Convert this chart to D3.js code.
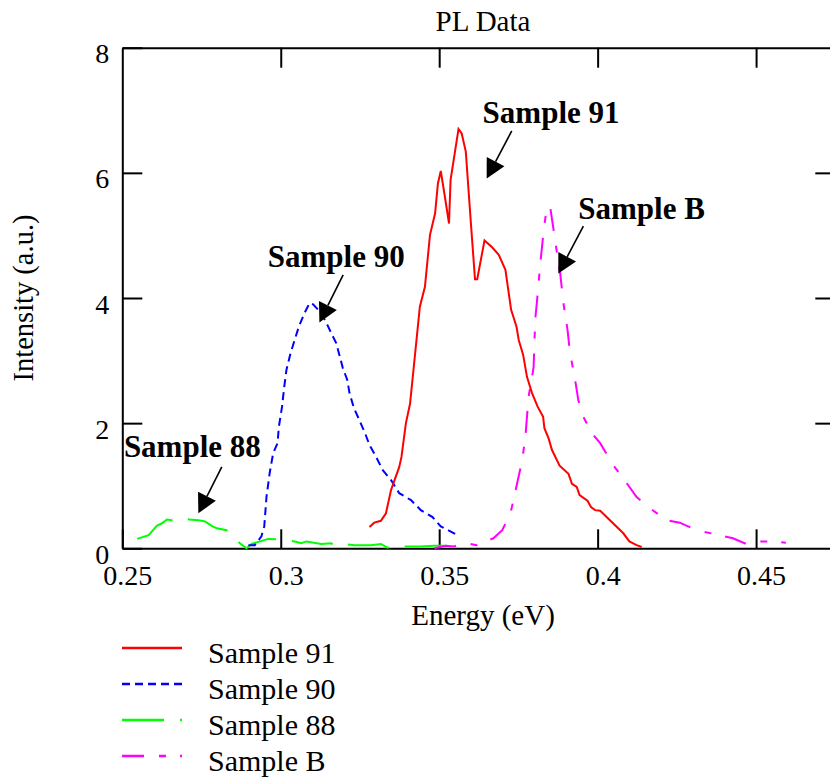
<!DOCTYPE html>
<html>
<head>
<meta charset="utf-8">
<script src="https://cdn.jsdelivr.net/npm/d3@7"></script>
<style>
  body { margin: 0; background: #fff; }
  svg text { font-family: "Liberation Serif", "Times New Roman", Times, serif !important; fill: #000; }
</style>
</head>
<body>
<script>
// PL spectra: energy (eV) and intensity (a.u.)
const s91E = [0.3280,0.3295,0.3316,0.3332,0.3348,0.3374,0.3381,0.3395,0.3408,0.3423,0.3439,0.3455,0.3471,0.3487,0.3496,0.3505,0.3517,0.3531,0.3536,0.3549,0.3561,0.3571,0.3584,0.3597,0.3613,0.3620,0.3643,0.3667,0.3688,0.3709,0.3727,0.3744,0.3751,0.3765,0.3777,0.3793,0.3811,0.3828,0.3832,0.3845,0.3856,0.3880,0.3908,0.3919,0.3934,0.3943,0.3968,0.3979,0.3992,0.4008,0.4081,0.4100,0.4123,0.4139];
const s91I = [0.34,0.41,0.44,0.56,0.93,1.30,1.46,2.00,2.31,3.06,3.86,4.18,5.01,5.35,5.83,6.03,5.65,5.19,5.89,6.31,6.70,6.63,6.34,5.41,4.30,4.30,4.92,4.81,4.69,4.45,3.81,3.54,3.33,3.09,2.74,2.48,2.26,2.10,1.92,1.76,1.57,1.32,1.19,1.03,0.98,0.85,0.76,0.66,0.61,0.60,0.24,0.11,0.05,0.02];

const s90E = [0.2898,0.2918,0.2939,0.2948,0.2955,0.2965,0.2976,0.2990,0.2994,0.3004,0.3011,0.3018,0.3031,0.3044,0.3057,0.3075,0.3091,0.3102,0.3128,0.3147,0.3165,0.3175,0.3185,0.3196,0.3210,0.3217,0.3231,0.3248,0.3266,0.3280,0.3301,0.3322,0.3348,0.3374,0.3411,0.3442,0.3479,0.3505,0.3547,0.3557];
const s90I = [0.05,0.05,0.19,0.35,0.82,1.20,1.52,1.68,1.94,2.26,2.58,2.85,3.12,3.33,3.54,3.76,3.92,3.90,3.76,3.57,3.38,3.28,3.09,2.88,2.69,2.48,2.24,2.05,1.84,1.65,1.46,1.25,1.09,0.88,0.77,0.61,0.50,0.35,0.24,0.21];

const s88E = [0.2547,0.2583,0.2609,0.2625,0.2641,0.2656,0.2698,0.2711,0.2740,0.2761,0.2782,0.2798,0.2829,0.2840,0.2855,0.2871,0.2892,0.2908,0.2960,0.3002,0.3044,0.3065,0.3081,0.3128,0.3159,0.3170,0.3186,0.3233,0.3285,0.3316,0.3337,0.3379,0.3442,0.3484,0.3547];
const s88I = [0.15,0.21,0.36,0.40,0.46,0.45,0.49,0.46,0.45,0.43,0.36,0.32,0.29,0.21,0.16,0.08,0.00,0.07,0.15,0.14,0.11,0.08,0.11,0.07,0.08,0.04,0.07,0.05,0.05,0.07,0.01,0.03,0.03,0.04,0.04];

const sBE = [0.3485,0.3521,0.3547,0.3568,0.3589,0.3618,0.3647,0.3671,0.3699,0.3725,0.3746,0.3762,0.3772,0.3782,0.3793,0.3798,0.3803,0.3811,0.3819,0.3830,0.3840,0.3851,0.3861,0.3872,0.3882,0.3892,0.3905,0.3913,0.3929,0.3939,0.3955,0.3982,0.4008,0.4049,0.4092,0.4123,0.4165,0.4217,0.4259,0.4312,0.4385,0.4427,0.4469,0.4490,0.4542,0.4594];
const sBI = [0.00,0.04,0.03,0.07,0.08,0.05,0.11,0.16,0.29,0.56,1.04,1.41,1.78,2.42,2.74,2.90,3.65,4.08,4.55,5.09,5.46,5.43,5.09,4.71,4.39,3.92,3.49,3.12,2.69,2.37,2.10,1.84,1.68,1.33,1.04,0.82,0.64,0.45,0.41,0.29,0.21,0.16,0.07,0.11,0.11,0.09];

const seriesNames = ["Sample 91", "Sample 90", "Sample 88", "Sample B"];
const xTicks = [0.25, 0.3, 0.35, 0.4, 0.45];
const yTicks = [0, 2, 4, 6, 8];

// annotation labels: text anchor and arrow (from, tip), in data units
const noteNames = ["Sample 91", "Sample B", "Sample 90", "Sample 88"];
const noteText  = [[0.3637, 6.79], [0.3939, 5.27], [0.2959, 4.50], [0.2505, 1.46]];
const noteFrom  = [[0.3729, 6.67], [0.3955, 5.15], [0.3197, 4.37], [0.2814, 1.30]];
const noteTip   = [[0.3650, 5.91], [0.3876, 4.39], [0.3122, 3.61], [0.2740, 0.56]];

// layout
const W = 830, H = 778;
const plot = { left: 122.3, right: 835.3, top: 47.7, bottom: 548.3 };
const SERIF = "'Liberation Serif', 'Times New Roman', Times, serif";

const x = d3.scaleLinear().domain([0.25, 0.475]).range([plot.left, plot.right]);
const y = d3.scaleLinear().domain([0, 8]).range([plot.bottom, plot.top]);

const styles = [
  { color: "#ff0000", dash: null },
  { color: "#0000ff", dash: "8,5" },
  { color: "#00ff00", dash: "42,16" },
  { color: "#ff00ff", dash: "22,15,7,14" }
];

const svg = d3.select("body").append("svg")
  .attr("width", W)
  .attr("height", H)
  .attr("font-family", SERIF);

// axes, ticks inward on all four sides
const gx = svg.append("g")
  .attr("transform", `translate(0,${plot.bottom})`)
  .call(d3.axisBottom(x).tickValues(xTicks).tickSize(-19).tickSizeOuter(0).tickFormat(d3.format("")));
gx.selectAll("text").attr("y", 37).attr("dy", null).attr("x", 5).attr("font-size", 28);

const gy = svg.append("g")
  .attr("transform", `translate(${plot.left},0)`)
  .call(d3.axisLeft(y).tickValues(yTicks).tickSize(-20).tickSizeOuter(0));
gy.selectAll("text").attr("x", -13).attr("dy", null).attr("y", 15).attr("font-size", 28);

svg.append("g")
  .attr("transform", `translate(0,${plot.top})`)
  .call(d3.axisTop(x).tickValues(xTicks.slice(1)).tickSize(-20).tickSizeOuter(0).tickFormat(""));

svg.append("g")
  .attr("transform", `translate(${plot.right},0)`)
  .call(d3.axisRight(y).tickValues(yTicks.slice(1, 4)).tickSize(-20).tickSizeOuter(0).tickFormat(""));

svg.selectAll("g").attr("font-family", SERIF).attr("font-size", 28);
svg.selectAll(".domain, .tick line").attr("stroke", "#000").attr("stroke-width", 2);
svg.selectAll(".tick text").attr("fill", "#000");

// curves
const line = d3.line().x(d => x(d[0])).y(d => y(d[1]));
const series = [
  d3.zip(s91E, s91I),
  d3.zip(s90E, s90I),
  d3.zip(s88E, s88I),
  d3.zip(sBE, sBI)
];

// draw back to front so red stays on top like the original
[2, 3, 1, 0].forEach(i => {
  svg.append("path")
    .datum(series[i])
    .attr("d", line)
    .attr("fill", "none")
    .attr("stroke", styles[i].color)
    .attr("stroke-width", 2)
    .attr("stroke-dasharray", styles[i].dash);
});

// annotations
noteNames.forEach((name, i) => {
  svg.append("text")
    .attr("x", x(noteText[i][0]))
    .attr("y", y(noteText[i][1]))
    .attr("font-size", 31)
    .attr("font-weight", "bold")
    .text(name);

  const x0 = x(noteFrom[i][0]), y0 = y(noteFrom[i][1]);
  const x1 = x(noteTip[i][0]), y1 = y(noteTip[i][1]);
  const len = Math.hypot(x1 - x0, y1 - y0);
  const ux = (x1 - x0) / len, uy = (y1 - y0) / len;
  const headLen = 19, headHalf = 10;
  const bx = x1 - ux * headLen, by = y1 - uy * headLen;

  svg.append("line")
    .attr("x1", x0).attr("y1", y0)
    .attr("x2", bx).attr("y2", by)
    .attr("stroke", "#000")
    .attr("stroke-width", 1.6);

  svg.append("path")
    .attr("d", `M${x1},${y1}L${bx - uy * headHalf},${by + ux * headHalf}L${bx + uy * headHalf},${by - ux * headHalf}Z`)
    .attr("fill", "#000");
});

// titles
svg.append("text")
  .attr("x", 483).attr("y", 31)
  .attr("text-anchor", "middle")
  .attr("font-size", 29)
  .text("PL Data");

svg.append("text")
  .attr("x", 483).attr("y", 625)
  .attr("text-anchor", "middle")
  .attr("font-size", 29)
  .text("Energy (eV)");

svg.append("text")
  .attr("transform", `translate(33,${(plot.top + plot.bottom) / 2}) rotate(-90)`)
  .attr("text-anchor", "middle")
  .attr("font-size", 28.5)
  .text("Intensity (a.u.)");

// legend
const legend = svg.append("g");
seriesNames.forEach((name, i) => {
  const ly = 648 + i * 36;
  legend.append("line")
    .attr("x1", 122).attr("x2", 182)
    .attr("y1", ly).attr("y2", ly)
    .attr("stroke", styles[i].color)
    .attr("stroke-width", 2.5)
    .attr("stroke-dasharray", styles[i].dash);
  legend.append("text")
    .attr("x", 208).attr("y", ly + 15)
    .attr("font-size", 30)
    .text(name);
});
</script>
</body>
</html>
